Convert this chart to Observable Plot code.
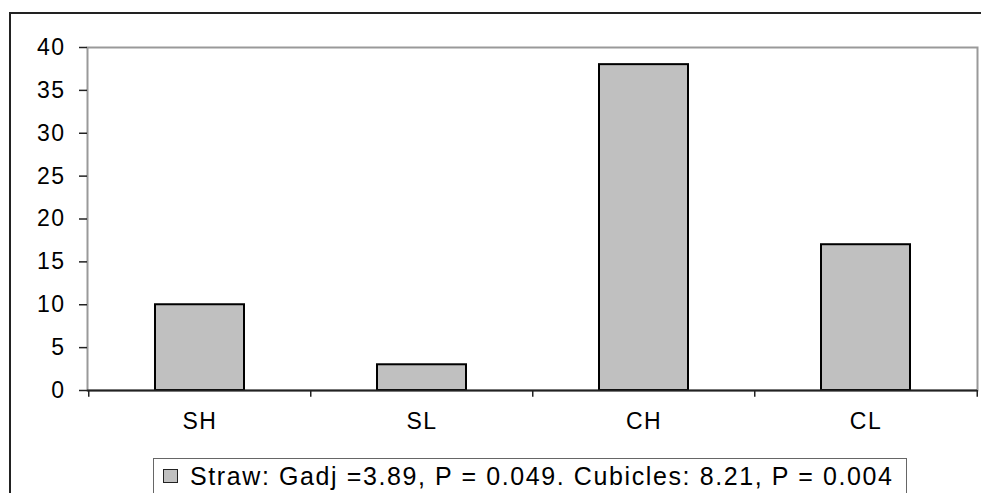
<!DOCTYPE html>
<html>
<head>
<meta charset="utf-8">
<script src="https://cdn.jsdelivr.net/npm/d3@7"></script>
<script src="https://cdn.jsdelivr.net/npm/@observablehq/plot@0.6"></script>
<style>
  body { margin: 0; background: white; }
  #wrap { position: relative; width: 981px; height: 493px; overflow: hidden; background: white; }
  #outer { position: absolute; left: 9px; top: 12px; width: 2000px; height: 2000px;
           border-left: 2px solid #222; border-top: 2px solid #222; }
  #chart { position: absolute; left: 0; top: 0; }
  #legend { position: absolute; left: 153px; top: 458px; width: 754px; height: 60px;
            border: 1.5px solid #666; box-sizing: border-box;
            font-family: "Liberation Sans", Arial, sans-serif; font-size: 25px; letter-spacing: 1.6px;
            color: black; white-space: nowrap; }
  #swatch { position: absolute; left: 9px; top: 10px; width: 15px; height: 14px;
            background: #c0c0c0; border: 1.5px solid #222; box-sizing: border-box; }
  #ltext { position: absolute; left: 36px; top: 4px; line-height: 26px; }
</style>
</head>
<body>
<div id="wrap">
  <div id="outer"></div>
  <div id="chart"></div>
  <div id="legend"><div id="swatch"></div><div id="ltext"></div></div>
</div>
<script>
const categories = ["SH", "SL", "CH", "CL"];
const values = [10, 3, 38, 17];
const yTicks = [0, 5, 10, 15, 20, 25, 30, 35, 40];
const legendText = "Straw: Gadj =3.89, P = 0.049. Cubicles: 8.21, P = 0.004";

const data = categories.map((c, i) => ({cat: c, value: values[i]}));

const W = 981, H = 450, ML = 87, MR = 4, MT = 47, MB = 60;
const step = (W - ML - MR) / categories.length;

const chart = Plot.plot({
  width: W,
  height: H,
  marginLeft: ML,
  marginRight: MR,
  marginTop: MT,
  marginBottom: MB,
  style: {
    fontFamily: "'Liberation Sans', Arial, sans-serif",
    fontSize: "22px",
    letterSpacing: "1.5px",
    color: "black",
    background: "transparent",
    overflow: "visible"
  },
  x: {domain: categories, paddingInner: 0.6, paddingOuter: 0.3, label: null},
  y: {domain: [0, 40], label: null},
  marks: [
    Plot.frame({stroke: "#999", strokeWidth: 2}),
    Plot.barY(data, {x: "cat", y: "value", fill: "#c0c0c0", stroke: "black", strokeWidth: 2}),
    Plot.ruleY([0], {stroke: "#222", strokeWidth: 2}),
    Plot.axisY({ticks: yTicks, tickSize: 8, tickPadding: 14, line: true, stroke: "#222", strokeWidth: 1.5, fontSize: 23, label: null}),
    Plot.axisX({tickSize: 0, tickPadding: 22, fontSize: 23, label: null}),
    Plot.ruleX(categories, {x: d => d, dx: -step / 2, y1: 0, y2: -0.8, stroke: "#222", strokeWidth: 1.5}),
    Plot.ruleX([categories[categories.length - 1]], {x: d => d, dx: step / 2, y1: 0, y2: -0.8, stroke: "#222", strokeWidth: 1.5})
  ]
});
document.getElementById("chart").appendChild(chart);
document.getElementById("ltext").textContent = legendText;
</script>
</body>
</html>
